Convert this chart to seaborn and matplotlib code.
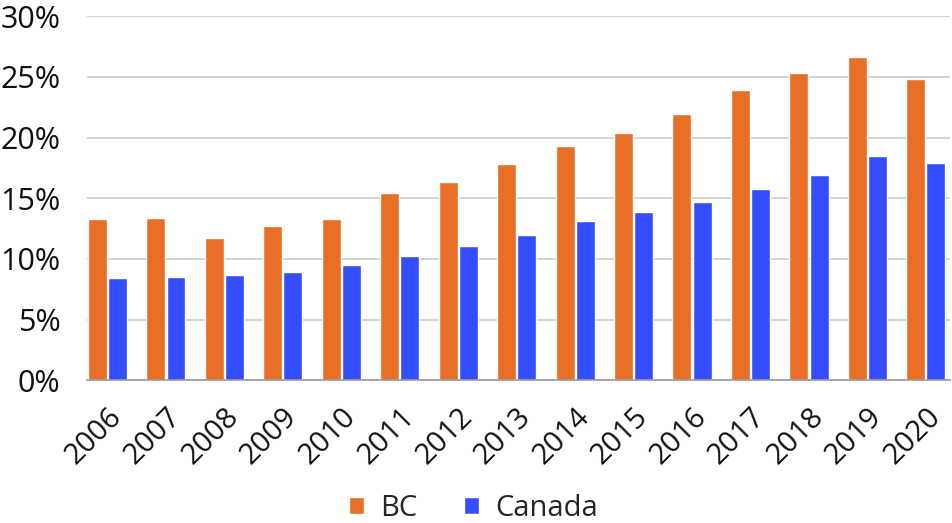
import pandas as pd
import matplotlib.pyplot as plt
import seaborn as sns
from matplotlib.ticker import PercentFormatter

# data
years = ['2006', '2007', '2008', '2009', '2010', '2011', '2012', '2013',
         '2014', '2015', '2016', '2017', '2018', '2019', '2020']
bc = [13.3, 13.4, 11.7, 12.7, 13.3, 15.4, 16.3, 17.8,
      19.3, 20.4, 21.9, 23.9, 25.3, 26.6, 24.8]
canada = [8.4, 8.5, 8.7, 8.9, 9.5, 10.2, 11.1, 12.0,
          13.1, 13.9, 14.7, 15.8, 16.9, 18.5, 17.9]

df = pd.DataFrame({'year': years * 2,
                   'value': bc + canada,
                   'region': ['BC'] * len(years) + ['Canada'] * len(years)})

sns.set_style('white')
plt.rcParams['font.family'] = ['Open Sans', 'DejaVu Sans']

fig = plt.figure(figsize=(9.53, 5.23), dpi=100)
ax = fig.add_axes([0.0913, 0.273, 0.906, 0.696])

sns.barplot(data=df, x='year', y='value', hue='region',
            palette={'BC': '#E86F25', 'Canada': '#344EFF'}, saturation=1,
            width=0.69, gap=0.06, ax=ax, zorder=3)

ax.set_ylim(0, 30)
ax.set_xlim(-0.35, 14.42)
ax.set_yticks(range(0, 31, 5))
ax.yaxis.set_major_formatter(PercentFormatter(decimals=0))
ax.grid(axis='y', color='#cccccc', linewidth=1.2, zorder=0)
for s in ['top', 'right', 'left']:
    ax.spines[s].set_visible(False)
ax.spines['bottom'].set_color('#999999')
ax.spines['bottom'].set_linewidth(1.2)
ax.spines['bottom'].set_zorder(4)

ax.tick_params(axis='y', length=0, pad=19, labelsize=22, labelcolor='#111111')
ax.tick_params(axis='x', length=0, pad=16, labelsize=21, labelcolor='#111111')
plt.setp(ax.get_xticklabels(), rotation=45, ha='right', rotation_mode='anchor')
ax.set_xlabel('')
ax.set_ylabel('')

# legend centred on the figure, below the tick labels
handles, labels = ax.get_legend_handles_labels()
ax.get_legend().remove()
fig.legend(handles, labels, loc='center', bbox_to_anchor=(0.497, 0.028), ncol=2,
           frameon=False, fontsize=21, handlelength=0.52, handleheight=0.52,
           handletextpad=0.55, columnspacing=1.6, borderpad=0)

fig.savefig('out.png', dpi=100)
